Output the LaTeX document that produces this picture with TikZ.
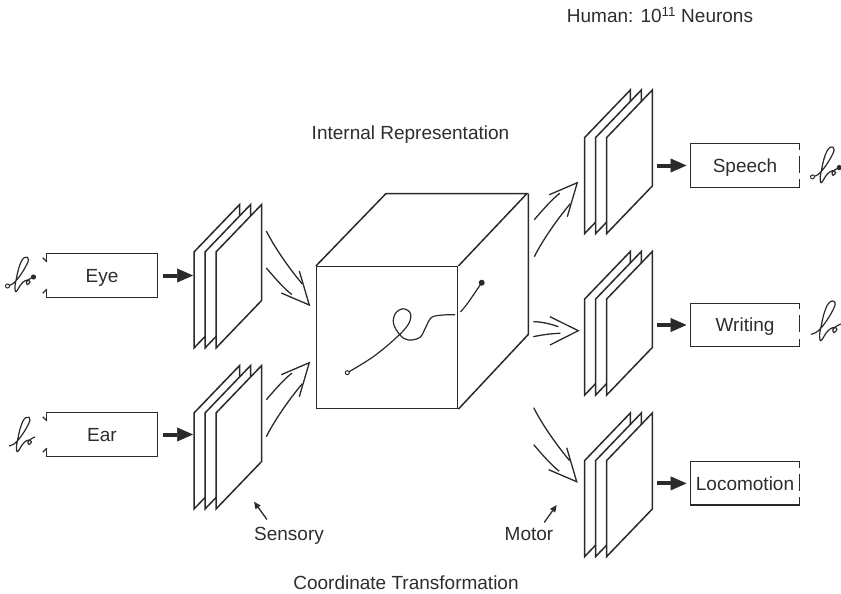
\documentclass[tikz,border=0pt]{standalone}
\usepackage{fontspec}
\setmainfont{Liberation Sans}
\usetikzlibrary{arrows.meta,calc}
\definecolor{ink}{RGB}{42,42,42}
\definecolor{txt}{RGB}{45,45,45}
\newcommand\planestack[2]{%
  \foreach \k in {22,11,0}{%
    \draw[plane] ({#1-\k},#2) -- ++(45.6,-47.5) -- ++(0,96) -- ++(-45.6,47.5) -- cycle;}}
\newcommand\hollowdiag[3]{%
  \begin{scope}[shift={(#1,#2)},yscale=#3]
    \draw[hollow] (-10,-34) -- (0,0) -- (-28,-12);
    \draw[hollow] (-43,-74) .. controls (-34,-56) and (-18,-34) .. (-7,-21);
    \draw[hollow] (-43,-37) .. controls (-36,-29) and (-26,-17) .. (-17.5,-10.5);
  \end{scope}}
\newcommand\bglyph[3]{%
  \begin{scope}[shift={(#1,#2)},scale=#3]
    \draw[glyph] plot[smooth, tension=0.6] coordinates {(0,29) (5,27) (10,22) (15,15) (19,8) (21,3) (20,0.3) (17,0.5) (14,4) (11,12) (9,21) (7.5,29) (8,34.5) (10,33) (13,28) (17,24) (21,23) (22.5,25) (20,27.5) (19,25) (22,22) (26,20)};
  \end{scope}}
\newcommand\inbox[1]{%
  \draw[boxline] ($(#1.north west)+(0,8)$) -- (#1.north west) -- (#1.north east) -- (#1.south east) -- (#1.south west) -- ($(#1.south west)+(0,-8)$);
  \draw[boxline] ($(#1.north west)+(0,8)$) -- ++(-4,-4);
  \draw[boxline] ($(#1.south west)+(0,-8)$) -- ++(-4,4);}
\newcommand\outbox[1]{%
  \draw[boxline] ($(#1.north east)+(0,6)$) -- (#1.north east) -- (#1.north west) -- (#1.south west) -- (#1.south east) -- ($(#1.south east)+(0,-8)$);
  \draw[boxline] ($(#1.north east)+(0,12)$) -- ($(#1.north east)+(0,29)$);}
\begin{document}
\begin{tikzpicture}[x=1pt,y=-1pt,line join=miter,
  lbl/.style={font=\fontsize{19}{23}\selectfont, text=txt, inner sep=0pt, text height=13.6pt, text depth=0pt},
  boxnode/.style={lbl, minimum width=110pt, minimum height=43pt},
  outnode/.style={lbl, minimum width=108.6pt, minimum height=43pt},
  plane/.style={draw=ink, line width=1.5pt, fill=white},
  boxline/.style={draw=ink, line width=1.3pt},
  cubeline/.style={draw=ink, line width=1.5pt},
  hollow/.style={draw=ink, line width=1.3pt},
  glyph/.style={draw=ink, line width=1.2pt},
  fat/.style={draw=ink, line width=4pt, -{Triangle[length=16pt,width=14pt,line width=0.5pt]}},
  thinarrow/.style={draw=ink, line width=1.3pt, -{Triangle[length=7pt,width=6pt]}}]
\useasboundingbox (0,0) rectangle (841,594);

% input boxes
\node[boxnode] (eye) at (102,275.5) {Eye};
\node[boxnode] (ear) at (102,434.5) {Ear};
\inbox{eye}
\inbox{ear}

% output boxes
\node[outnode] (speech) at (745,165.5) {Speech};
\node[outnode] (writing) at (745,325) {Writing};
\node[outnode] (loco) at (745,483.4) {Locomotion};
\outbox{speech}
\outbox{writing}
\outbox{loco}

% stacks
\planestack{216}{252}
\planestack{216}{413}
\planestack{606.7}{137.5}
\planestack{606.7}{299}
\planestack{606.7}{460.5}

\coordinate (eyeIn) at (193,275.5);
\coordinate (earIn) at (193,434.5);
\coordinate (spOut) at (657,165.5);
\coordinate (wrOut) at (657,325);
\coordinate (loOut) at (657,483.4);
\draw[fat] ([xshift=6pt]eye.east) -- (eyeIn);
\draw[fat] ([xshift=6pt]ear.east) -- (earIn);
\draw[fat] (spOut) -- ([xshift=-4pt]speech.west);
\draw[fat] (wrOut) -- ([xshift=-4pt]writing.west);
\draw[fat] (loOut) -- ([xshift=-4pt]loco.west);

% cube
\node[draw=ink, line width=1.5pt, minimum width=141pt, minimum height=141.6pt, inner sep=0pt] (cube) at (387.2,337.5) {};
\draw[cubeline] (cube.north west) -- ++(70,-72.4) -- ++(141,0) -- (cube.north east);
\draw[cubeline] ($(cube.north east)+(70,-72.4)$) -- ++(0,140.7) -- (cube.south east);

% trajectory inside the cube
\draw[glyph] plot[smooth, tension=0.6] coordinates {(347.3,372.7) (373.3,356.7) (397,337) (408.5,324) (410.5,313.5) (403.3,308.8) (395.5,313.3) (393.5,323.5) (400,335) (408.3,340) (420,337.3) (426,326.7) (431.7,317.3) (443.3,315) (455,314.7)};
\draw[glyph] (460.5,312) .. controls (467,305) and (474,294) .. (481.7,282.7);
\draw[ink, line width=1pt, fill=white] (347.3,372.7) circle (2pt);
\fill[ink] (481.7,282.7) circle (3pt);

% hollow arrows
\hollowdiag{309.3}{305}{1}
\hollowdiag{309.3}{362.7}{-1}
\hollowdiag{577.3}{182.7}{-1}
\hollowdiag{576.7}{481.7}{1}
\begin{scope}[shift={(578.3,330.7)}]
  \draw[hollow] (-28.3,-14) -- (0,0) -- (-28.3,14.3);
  \draw[hollow] (-45,-9) .. controls (-36,-9) and (-27,-6.5) .. (-20,-4);
  \draw[hollow] (-45,6) .. controls (-36,4) and (-26,2.8) .. (-18,2.6);
\end{scope}

% cursive glyphs
\bglyph{7.5}{257}{1}
\draw[ink, line width=1pt, fill=white] (7.5,286) circle (2pt);
\fill[ink] (33.5,277) circle (2.6pt);
\bglyph{9}{417}{1}
\bglyph{812.5}{147}{1.03}
\draw[ink, line width=1pt, fill=white] (812.5,176.9) circle (2pt);
\fill[ink] (839.3,167.6) circle (2.6pt);
\bglyph{811}{301}{1.15}

% labels
\node[lbl] (human) at (660,15.5) {Human: 10\textsuperscript{11} Neurons};
\node[lbl] (ir) at (410.5,133) {Internal Representation};
\node[lbl] (ct) at (406,583) {Coordinate Transformation};
\node[lbl] (sensory) at (289,534) {Sensory};
\node[lbl] (motor) at (529,534) {Motor};
\coordinate (sensTip) at (254,501.7);
\coordinate (motTip) at (556.7,505);
\draw[thinarrow] ([xshift=13pt,yshift=7.5pt]sensory.north west) -- (sensTip);
\draw[thinarrow] ([xshift=-9.3pt,yshift=4.5pt]motor.north east) -- (motTip);
\end{tikzpicture}
\end{document}
